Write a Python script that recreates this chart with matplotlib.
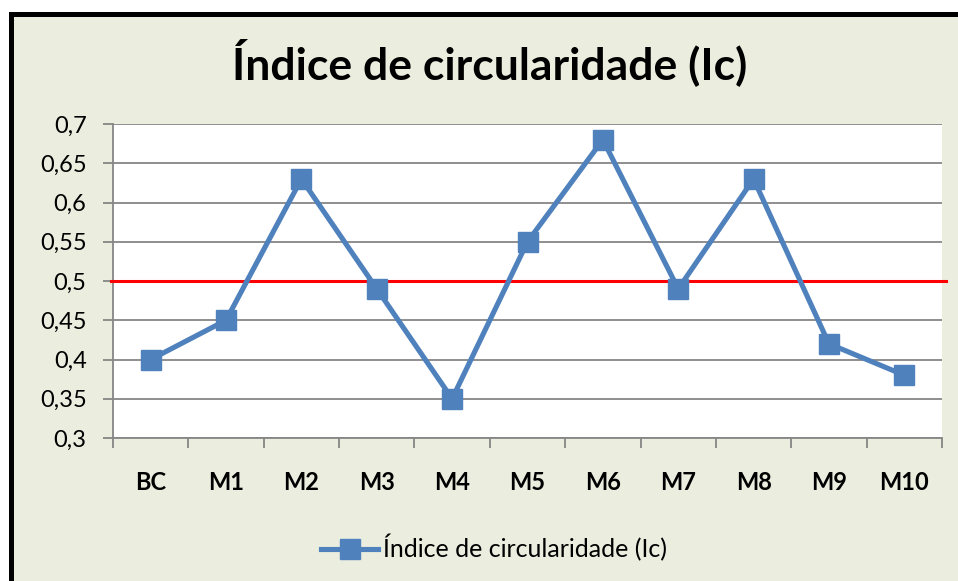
import matplotlib.pyplot as plt
from matplotlib.patches import Rectangle

categories = ['BC', 'M1', 'M2', 'M3', 'M4', 'M5', 'M6', 'M7', 'M8', 'M9', 'M10']
values = [0.40, 0.45, 0.63, 0.49, 0.35, 0.55, 0.68, 0.49, 0.63, 0.42, 0.38]
threshold = 0.5
yticks = [0.3, 0.35, 0.4, 0.45, 0.5, 0.55, 0.6, 0.65, 0.7]
series_name = 'Índice de circularidade (Ic)'

plt.rcParams['font.family'] = ['Lato', 'DejaVu Sans']

W, H = 958, 581
fig = plt.figure(figsize=(W / 100, H / 100), dpi=100)
fig.patch.set_facecolor('white')

# chart area background with black frame (left/top visible)
fig.patches.append(Rectangle((11 / W, -0.1), 1.2, 1 - 14 / H + 0.1,
                             transform=fig.transFigure, facecolor='#EBEEDF',
                             edgecolor='black', linewidth=3.6, zorder=-10))

ax = fig.add_axes([113 / W, 1 - 438 / H, (942 - 113) / W, (438 - 124) / H])
ax.set_facecolor('white')

x = list(range(len(categories)))
line, = ax.plot(x, values, color='#4F81BD', linewidth=3.7, marker='s',
                markersize=14.5, zorder=4, label=series_name)

ax.plot([-0.002, 1.005], [threshold, threshold], color='#FF0000', linewidth=2.2,
        transform=ax.get_yaxis_transform(), clip_on=False, zorder=3)

ax.set_xlim(-0.5, len(categories) - 0.5)
ax.set_ylim(0.3, 0.7)
ax.set_yticks(yticks)
ax.set_yticklabels([str(v).replace('.', ',') for v in yticks], fontsize=17)
ax.yaxis.grid(True, color='#868686', linewidth=1.3)
ax.set_axisbelow(True)

ax.set_xticks(x)
ax.set_xticklabels(categories, fontsize=17, fontweight='bold')
ax.set_xticks([i - 0.5 for i in range(len(categories) + 1)], minor=True)
ax.tick_params(axis='x', which='major', length=0, pad=24)
ax.tick_params(axis='x', which='minor', length=7, width=1.3, color='#868686', direction='out')
ax.tick_params(axis='y', length=7, width=1.3, color='#868686', direction='out', pad=12)

for s in ['top', 'right']:
    ax.spines[s].set_visible(False)
for s in ['left', 'bottom']:
    ax.spines[s].set_color('#868686')
    ax.spines[s].set_linewidth(1.3)

fig.text(490 / W, 1 - 62 / H, 'Índice de circularidade (Ic)', ha='center', va='center',
         fontsize=32, fontweight='bold')

fig.legend(handles=[line], loc='center', bbox_to_anchor=(494 / W, 1 - 548 / H),
           frameon=False, fontsize=18, handlelength=2.3, handletextpad=0.2)

fig.savefig('out.png', dpi=100, facecolor=fig.get_facecolor())
